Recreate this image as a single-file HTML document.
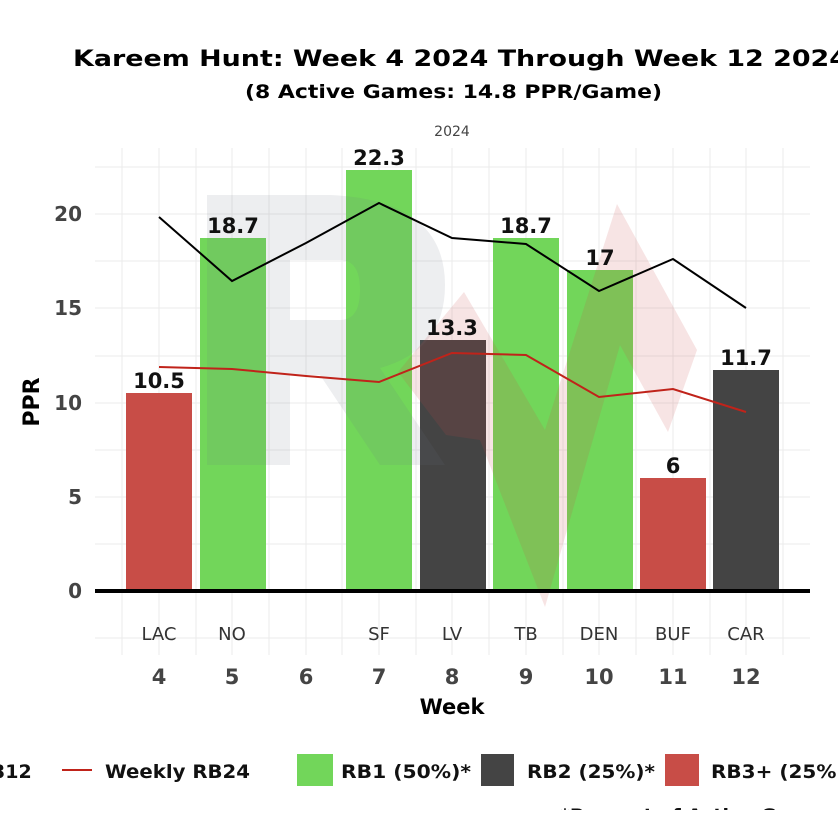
<!DOCTYPE html>
<html><head><meta charset="utf-8"><style>
body{margin:0;background:#fff;}
svg text{font-family:"DejaVu Sans","Liberation Sans",sans-serif;}
</style></head><body>
<svg width="838" height="810" viewBox="0 0 838 810" xmlns="http://www.w3.org/2000/svg">
<rect width="838" height="810" fill="#fff"/>
<text x="73" y="66" font-size="22" font-weight="bold" fill="#000" textLength="775" lengthAdjust="spacingAndGlyphs">Kareem Hunt: Week 4 2024 Through Week 12 2024</text>
<text x="245" y="98" font-size="19" font-weight="bold" fill="#000" textLength="417" lengthAdjust="spacingAndGlyphs">(8 Active Games: 14.8 PPR/Game)</text>
<text x="452" y="136" text-anchor="middle" font-size="14" fill="#444">2024</text>
<!-- grid -->
<g stroke="#ebebeb" stroke-width="1">
<line x1="95" x2="810" y1="167" y2="167"/><line x1="95" x2="810" y1="214" y2="214"/><line x1="95" x2="810" y1="261" y2="261"/><line x1="95" x2="810" y1="308" y2="308"/><line x1="95" x2="810" y1="356" y2="356"/><line x1="95" x2="810" y1="403" y2="403"/><line x1="95" x2="810" y1="450" y2="450"/><line x1="95" x2="810" y1="497" y2="497"/><line x1="95" x2="810" y1="544" y2="544"/><line x1="95" x2="810" y1="638" y2="638"/>
<line y1="148" y2="655" x1="122" x2="122"/><line y1="148" y2="655" x1="159" x2="159"/><line y1="148" y2="655" x1="196" x2="196"/><line y1="148" y2="655" x1="232" x2="232"/><line y1="148" y2="655" x1="269" x2="269"/><line y1="148" y2="655" x1="306" x2="306"/><line y1="148" y2="655" x1="342" x2="342"/><line y1="148" y2="655" x1="379" x2="379"/><line y1="148" y2="655" x1="416" x2="416"/><line y1="148" y2="655" x1="452" x2="452"/><line y1="148" y2="655" x1="489" x2="489"/><line y1="148" y2="655" x1="526" x2="526"/><line y1="148" y2="655" x1="563" x2="563"/><line y1="148" y2="655" x1="599" x2="599"/><line y1="148" y2="655" x1="636" x2="636"/><line y1="148" y2="655" x1="673" x2="673"/><line y1="148" y2="655" x1="710" x2="710"/><line y1="148" y2="655" x1="746" x2="746"/><line y1="148" y2="655" x1="783" x2="783"/>
</g>
<!-- bars -->
<rect x="126" y="393" width="66" height="198" fill="#c84d47"/>
<rect x="200" y="238" width="66" height="353" fill="#72d65a"/>
<rect x="346" y="170" width="66" height="421" fill="#72d65a"/>
<rect x="420" y="340" width="66" height="251" fill="#444"/>
<rect x="493" y="238" width="66" height="353" fill="#72d65a"/>
<rect x="567" y="270" width="66" height="321" fill="#72d65a"/>
<rect x="640" y="478" width="66" height="113" fill="#c84d47"/>
<rect x="713" y="370" width="66" height="221" fill="#444"/>
<!-- watermark -->
<path d="M207,195 H330 Q445,200 445,285 Q445,350 380,368 L445,465 H380 L320,375 H290 V465 H207 Z M290,260 V320 H340 Q360,320 360,290 Q360,260 340,260 Z" fill="#6a7080" fill-opacity="0.12" fill-rule="evenodd"/>
<polygon points="398,372 464,292 545,430 617,204 697,350 668,432 620,345 545,607 480,440 446,435" fill="#c84d47" fill-opacity="0.15"/>
<!-- lines -->
<polyline points="159,217 232,281 306,243 379,203 452,238 526,244 599,291 673,259 746,308" fill="none" stroke="#000" stroke-width="2"/>
<polyline points="159,367 232,369 306,376 379,382 452,353 526,355 599,397 673,389 746,412" fill="none" stroke="#c0231a" stroke-width="2"/>
<line x1="95" x2="810" y1="591" y2="591" stroke="#000" stroke-width="4"/>
<!-- labels -->
<g font-size="21" font-weight="bold" text-anchor="middle" fill="#111">
<text x="159" y="388">10.5</text><text x="233" y="233">18.7</text><text x="379" y="165">22.3</text><text x="452" y="335">13.3</text><text x="526" y="233">18.7</text><text x="600" y="265">17</text><text x="673" y="473">6</text><text x="746" y="365">11.7</text>
</g>
<g font-size="20" font-weight="bold" text-anchor="end" fill="#444">
<text x="82" y="221">20</text><text x="82" y="315">15</text><text x="82" y="410">10</text><text x="82" y="504">5</text><text x="82" y="598">0</text>
</g>
<text transform="translate(39,402) rotate(-90)" text-anchor="middle" font-size="22" font-weight="bold">PPR</text>
<g font-size="18" text-anchor="middle" fill="#333">
<text x="159" y="640">LAC</text><text x="232" y="640">NO</text><text x="379" y="640">SF</text><text x="452" y="640">LV</text><text x="526" y="640">TB</text><text x="599" y="640">DEN</text><text x="673" y="640">BUF</text><text x="746" y="640">CAR</text>
</g>
<g font-size="21" font-weight="bold" text-anchor="middle" fill="#444">
<text x="159" y="684">4</text><text x="232" y="684">5</text><text x="306" y="684">6</text><text x="379" y="684">7</text><text x="452" y="684">8</text><text x="526" y="684">9</text><text x="599" y="684">10</text><text x="673" y="684">11</text><text x="746" y="684">12</text>
</g>
<text x="452" y="714" text-anchor="middle" font-size="21" font-weight="bold">Week</text>
<!-- legend -->
<g font-size="19" font-weight="bold" fill="#111">
<text x="-8" y="778">312</text>
<line x1="62" x2="92" y1="770" y2="770" stroke="#c0231a" stroke-width="2"/>
<text x="105" y="778" textLength="145" lengthAdjust="spacingAndGlyphs">Weekly RB24</text>
<rect x="297" y="754" width="36" height="32" fill="#72d65a"/>
<text x="341" y="778" textLength="130" lengthAdjust="spacingAndGlyphs">RB1 (50%)*</text>
<rect x="481" y="754" width="33" height="32" fill="#444"/>
<text x="527" y="778" textLength="128" lengthAdjust="spacingAndGlyphs">RB2 (25%)*</text>
<rect x="665" y="754" width="34" height="32" fill="#c84d47"/>
<text x="711" y="778" textLength="145" lengthAdjust="spacingAndGlyphs">RB3+ (25%)*</text>
</g>
<text x="560" y="822" font-size="19" font-weight="bold" fill="#111">*Percent of Active Games</text>
</svg>
</body></html>
